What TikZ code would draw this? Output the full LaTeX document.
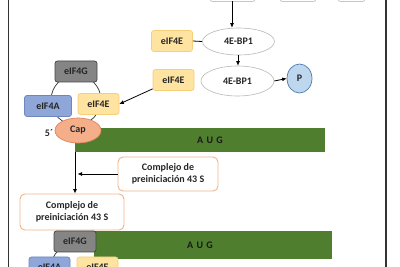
\documentclass[tikz,border=0pt]{standalone}
\usepackage{fontspec}
\setmainfont{Carlito}
\usetikzlibrary{arrows.meta,shapes.geometric}
\definecolor{yelF}{HTML}{FFE3A0}
\definecolor{yelD}{HTML}{F5CF7A}
\definecolor{bluF}{HTML}{8EA6D8}
\definecolor{bluD}{HTML}{6F86BE}
\definecolor{gryF}{HTML}{858585}
\definecolor{gryD}{HTML}{454545}
\definecolor{capF}{HTML}{F4AE8A}
\definecolor{capD}{HTML}{E0855A}
\definecolor{grn}{HTML}{4E7E2E}
\definecolor{orgD}{HTML}{F2B48A}
\definecolor{pF}{HTML}{BDD7EE}
\definecolor{pD}{HTML}{4D7AAE}
\definecolor{txt}{HTML}{262626}
\begin{document}
\begin{tikzpicture}[x=1pt,y=-1pt,
  lbl/.style={font=\bfseries\fontsize{10}{11.5}\selectfont, text=txt},
  factor/.style={lbl, rectangle, rounded corners=2.5pt, line width=0.7pt, inner sep=0pt, minimum width=41, minimum height=21},
  fe/.style={factor, fill=yelF, draw=yelD},
  fa/.style={factor, fill=bluF, draw=bluD, minimum width=47},
  fg/.style={factor, fill=gryF, draw=gryD, minimum width=42},
  bp/.style={lbl, ellipse, draw=gray!55, line width=0.6pt, fill=white, inner sep=0pt},
  cbox/.style={lbl, rectangle, rounded corners=5pt, draw=orgD, line width=0.9pt, fill=white, align=center, inner sep=0pt},
  topbox/.style={rounded corners=2.5pt, draw=gray!45, line width=0.7pt, fill=white},
  arr/.style={-{Latex[length=4.5pt,width=4pt]}, line width=0.8pt, black},
  ring/.style={line width=0.8pt, gryD},
  bar/.style={fill=grn},
  aug/.style={font=\bfseries\fontsize{10}{11}\selectfont, text=black!90}
]
\useasboundingbox (0,0) rectangle (400,267);
\fill[white] (0,0) rectangle (400,267);
% frame
\draw[line width=1.3pt, black!80] (8.5,-1) -- (8.5,268);
\draw[line width=1.3pt, black!80] (386,-1) -- (386,268);
% top boxes (cut off)
\draw[topbox] (210,-20) rectangle (255,1.5);
\draw[topbox] (280,-20) rectangle (316,1.5);
\draw[topbox] (338,-20) rectangle (365,1.5);
\coordinate (t1) at (232,1.5);
% 4E-BP1 ellipses
\node[bp, minimum width=72, minimum height=27] (bp1) at (238.5,41.5) {4E-BP1};
\node[bp, minimum width=73, minimum height=30] (bp2) at (237.5,81) {4E-BP1};
\node[lbl, ellipse, fill=pF, draw=pD, line width=0.7pt, minimum width=25, minimum height=29, inner sep=0pt] (p) at (299.5,78.5) {P};
\draw[arr] (t1) -- (t1 |- bp1.north);
\draw[arr] (bp1.south -| 238,0) -- (238,0 |- bp2.north);
\draw[arr] (bp2.east) -- (p.west);
% free eIF4E
\node[fe] (e1) at (172,41) {eIF4E};
\node[fe] (e2) at (173.5,80) {eIF4E};
\draw[line width=0.8pt, black] (e1.east) -- (bp1.west);
% first complex
\draw[ring] (76,100) circle[radius=25pt];
\coordinate (v) at (75,150);
\node[cbox, minimum width=104, minimum height=36] (c2) at (72,212) {Complejo de\\preiniciación 43 S};
\draw[arr] (v) -- (v |- c2.north);
\fill[bar] (75,128) rectangle (325,152);
\node[aug] (aug1) at (210,140) {A\,\,U\,\,G};
\node[fg] (g1) at (76,71.5) {eIF4G};
\node[fa] (a1) at (48,106) {eIF4A};
\node[fe] (e3) at (98.5,104) {eIF4E};
\node[lbl, ellipse, fill=capF, draw=capD, line width=0.7pt, minimum width=46, minimum height=25, inner sep=0pt] (cap) at (78,130.5) {Cap};
\node[lbl] (five) at (49,133.5) {5´};
\draw[arr] (e2.south west) ++(0,-2) coordinate (e2a) -- (e3.east);
% right complejo box
\node[cbox, minimum width=100, minimum height=34] (c1) at (168,174) {Complejo de\\preiniciación 43 S};
\coordinate (j) at (77.5,174);
\draw[arr] (c1.west) -- (j);
% second complex (bottom)
\draw[ring] (76,268) circle[radius=25pt];
\fill[bar] (94,231) rectangle (332,259);
\node[aug] (aug2) at (200,245.5) {A\,\,U\,\,G};
\node[fg] (g2) at (75,241.5) {eIF4G};
\node[fa, minimum width=41, minimum height=21] (a2) at (49.5,267.5) {eIF4A};
\node[fe] (e4) at (97.5,267.5) {eIF4E};
\end{tikzpicture}
\end{document}
